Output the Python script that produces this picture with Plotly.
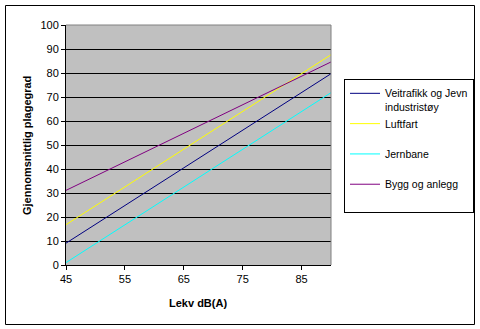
import plotly.graph_objects as go

x_vals = [45, 90]
veitrafikk = [9.1, 79.7]
luftfart = [16.8, 87.6]
jernbane = [1.0, 71.8]
bygg = [31.1, 84.6]

names = ["Veitrafikk og Jevn<br>industristøy", "Luftfart<br> ", "Jernbane<br> ", "Bygg og anlegg<br> "]
colors = ["#000080", "#FFFF00", "#00FFFF", "#800080"]
series = [veitrafikk, luftfart, jernbane, bygg]

x_ticks = [45, 55, 65, 75, 85]
y_ticks = [0, 10, 20, 30, 40, 50, 60, 70, 80, 90, 100]

FONT = "Arial, 'Liberation Sans', sans-serif"

fig = go.Figure()
for i, (n, c, s) in enumerate(zip(names, colors, series)):
    fig.add_trace(go.Scatter(x=x_vals, y=s, mode="lines", name=n,
                             line=dict(color=c, width=1), legendgroup=str(i)))

W, H = 480, 329
L, R, T, B = 66, 331, 25, 265

fig.update_layout(
    width=W, height=H,
    margin=dict(l=L, r=W - R, t=T, b=H - B, autoexpand=False),
    paper_bgcolor="white", plot_bgcolor="#C0C0C0",
    font=dict(family=FONT, size=11, color="black"),
    showlegend=True,
    legend=dict(x=(344 - L) / (R - L), y=(B - 79) / (B - T), xanchor="left", yanchor="top",
                bordercolor="black", borderwidth=1, bgcolor="white",
                font=dict(family=FONT, size=10.5), valign="top",
                tracegroupgap=0, itemwidth=30),
    xaxis=dict(range=[45, 90], tickvals=x_ticks, ticks="outside", ticklen=4, tickcolor="black",
               showgrid=False, zeroline=False, showline=True, linecolor="black", linewidth=1,
               tickfont=dict(size=11)),
    yaxis=dict(range=[0, 100], tickvals=y_ticks, ticks="outside", ticklen=4, tickcolor="black",
               showgrid=True, gridcolor="black", gridwidth=1, zeroline=False,
               showline=True, linecolor="black", linewidth=1, tickfont=dict(size=11)),
)

# plot-area border (top/right grey)
fig.add_shape(type="line", xref="paper", yref="paper", x0=0, x1=1, y0=1, y1=1,
              line=dict(color="#808080", width=1))
fig.add_shape(type="line", xref="paper", yref="paper", x0=1, x1=1, y0=0, y1=1,
              line=dict(color="#808080", width=1))
# outer chart border
fig.add_shape(type="rect", xref="paper", yref="paper",
              x0=(5.5 - L) / (R - L), x1=(474.5 - L) / (R - L),
              y0=(B - 324.5) / (B - T), y1=(B - 5.5) / (B - T),
              line=dict(color="black", width=1), layer="below")

fig.add_annotation(text="<b>Lekv dB(A)</b>", xref="paper", yref="paper",
                   x=(198 - L) / (R - L), y=(B - 303) / (B - T), showarrow=False,
                   font=dict(size=11), xanchor="center", yanchor="middle")
fig.add_annotation(text="<b>Gjennomsnittlig plagegrad</b>", xref="paper", yref="paper",
                   x=(27 - L) / (R - L), y=(B - 146) / (B - T), showarrow=False,
                   textangle=-90, font=dict(size=11), xanchor="center", yanchor="middle")

fig.write_html("out.html")
